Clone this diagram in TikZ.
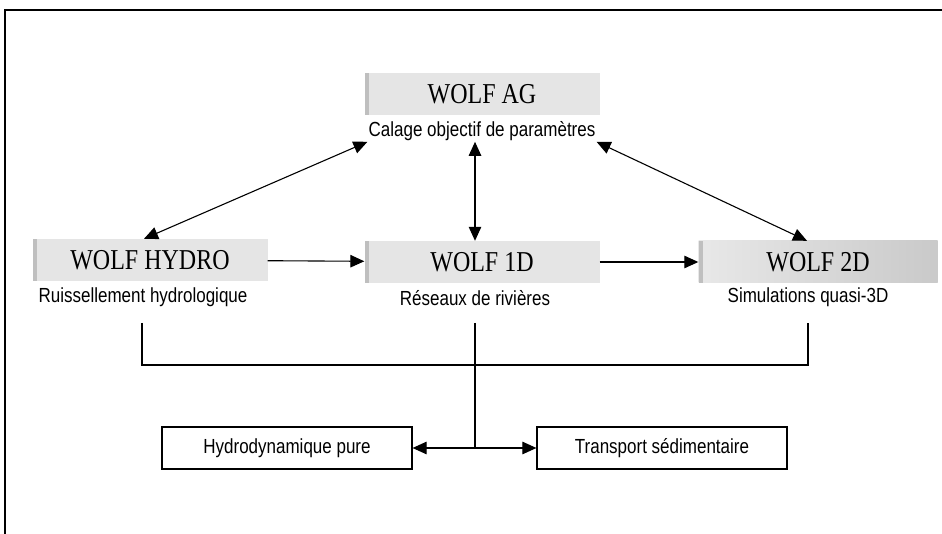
\documentclass[tikz,border=0pt]{standalone}
\usepackage{fontspec}
\setmainfont{Liberation Serif}
\setsansfont{Liberation Sans}
\usetikzlibrary{arrows.meta,positioning}
\newcommand{\vst}[1]{\scalebox{1}[1.2]{#1}}

\begin{document}
\begin{tikzpicture}[x=1pt,y=1pt,>={Triangle[length=14pt,width=12.5pt]},
    wolf/.style={rectangle,fill=gray!20,minimum height=42pt,minimum width=235pt,
                 inner sep=0pt,font=\fontsize{24}{26}\selectfont,
                 path picture={\fill[gray!50] (path picture bounding box.south west)
                   rectangle ([xshift=4pt]path picture bounding box.north west);}},
    desc/.style={font=\sffamily\fontsize{17}{19}\selectfont,inner sep=1pt},
    outbox/.style={rectangle,draw,line width=1.2pt,minimum width=250pt,
                   minimum height=42pt,font=\sffamily\fontsize{17}{19}\selectfont},
    conn/.style={line width=1.1pt}]
  \useasboundingbox (0,0) rectangle (942,-534);
  % frame (cut on the right and at the bottom)
  \draw[line width=1.4pt] (5,-534) |- (942,-10);

  % modules
  \node[wolf] (ag) at (482,-94) {\vst{WOLF AG}};
  \node[wolf] (hydro) at (150,-260) {\vst{WOLF HYDRO}};
  \node[wolf] (oned) at (482,-262) {\vst{WOLF 1D}};
  \node[wolf,minimum width=239pt,left color=gray!18,right color=gray!42] (twod)
    at (818,-262) {\vst{WOLF 2D}};

  \node[desc] (agtxt) at (482,-131) {\vst{Calage objectif de paramètres}};
  \node[desc] (hydrotxt) at (143,-297) {\vst{Ruissellement hydrologique}};
  \node[desc] (onedtxt) at (475,-298) {\vst{Réseaux de rivières}};
  \node[desc] (twodtxt) at (808,-297) {\vst{Simulations quasi-3D}};

  \node[outbox] (pure) at (287,-448) {\vst{Hydrodynamique pure}};
  \node[outbox] (sed) at (662,-448) {\vst{Transport sédimentaire}};

  % links
  \draw[conn,<->] (agtxt.south west) -- ([xshift=-6pt]hydro.north);
  \draw[conn,<->] ([xshift=-7pt]agtxt.south) -- ([xshift=-7pt]oned.north);
  \draw[conn,<->] (agtxt.south east) -- ([xshift=-11pt]twod.north);
  \draw[conn,->] (hydro) -- (oned);
  \draw[conn,->] (oned) -- (twod);

  % bracket to the outputs
  \coordinate (bl) at (142,-323);
  \coordinate (br) at (808,-323);
  \coordinate (top) at (475,-323);
  \coordinate (j) at (475,-448);
  \draw[conn] (bl) -- ++(0,-42) -| (br);
  \draw[conn] (top) -- (j);
  \draw[conn,->] (j) -- (pure);
  \draw[conn,->] (j) -- (sed);
\end{tikzpicture}
\end{document}
